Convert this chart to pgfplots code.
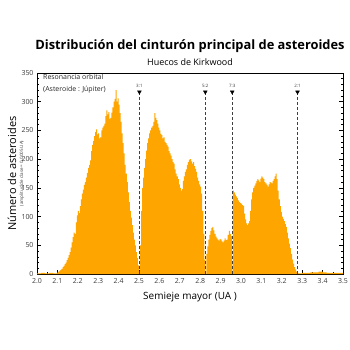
\documentclass[border=0pt]{standalone}
\usepackage{fontspec}
\setmainfont{Open Sans}
\usepackage{pgfplots}
\pgfplotsset{compat=1.18}
\definecolor{barorange}{RGB}{255,165,0}
\definecolor{ticktext}{RGB}{60,60,60}
\begin{document}
\begin{tikzpicture}
\useasboundingbox (-37bp,-76bp) rectangle (313bp,274bp);
\begin{axis}[
  at={(0,0)}, anchor=south west,
  scale only axis, width=306bp, height=201bp,
  xmin=2.0, xmax=3.5, ymin=0, ymax=350,
  xtick={2.0,2.1,...,3.5},
  xticklabels={2.0,2.1,2.2,2.3,2.4,2.5,2.6,2.7,2.8,2.9,3.0,3.1,3.2,3.3,3.4,3.5},
  ytick={0,50,...,350},
  minor x tick num=1, minor y tick num=4,
  xtick pos=bottom, ytick pos=both,
  tick align=inside,
  major tick length=4bp, minor tick length=2bp,
  tick style={black, line width=0.5pt},
  axis line style={black, line width=0.8pt},
  /pgf/number format/assume math mode=true,
  ticklabel style={font=\fontsize{7}{8}\selectfont, text=ticktext},
  xticklabel style={yshift=-1bp},
  clip=false,
]
\addplot[fill=barorange, draw=none, const plot] coordinates {
(2.00,1) (2.02,2) (2.04,1) (2.06,2) (2.08,1)
(2.100,3) (2.105,4) (2.110,6) (2.115,7) (2.120,9) (2.125,12) (2.130,14) (2.135,17)
(2.140,20) (2.145,24) (2.150,28) (2.155,33) (2.160,38) (2.165,46) (2.170,55) (2.175,64)
(2.180,72) (2.185,70) (2.190,90) (2.195,102) (2.200,110) (2.205,106) (2.210,118) (2.215,130)
(2.220,140) (2.225,147) (2.230,155) (2.235,160) (2.240,168) (2.245,176) (2.250,185) (2.255,190)
(2.260,198) (2.265,214) (2.270,225) (2.275,232) (2.280,240) (2.285,247) (2.290,252) (2.295,243)
(2.300,245) (2.305,236) (2.310,238) (2.315,250) (2.320,255) (2.325,258) (2.330,262) (2.335,275)
(2.340,285) (2.345,278) (2.350,282) (2.355,270) (2.360,272) (2.365,281) (2.370,290) (2.375,300)
(2.380,305) (2.385,320) (2.390,300) (2.395,306) (2.400,295) (2.405,280) (2.410,265) (2.415,245)
(2.420,228) (2.425,210) (2.430,190) (2.435,175) (2.440,160) (2.445,142) (2.450,125) (2.455,110)
(2.460,98) (2.465,85) (2.470,72) (2.475,60) (2.480,50) (2.485,38) (2.490,28) (2.495,15)
(2.500,4) (2.502,0) (2.505,50) (2.510,110) (2.515,150) (2.520,168) (2.525,185) (2.530,200)
(2.535,215) (2.540,228) (2.545,236) (2.550,245) (2.555,250) (2.560,255) (2.565,258) (2.570,265)
(2.575,280) (2.580,272) (2.585,268) (2.590,262) (2.595,255) (2.600,250) (2.605,244) (2.610,242)
(2.615,236) (2.620,238) (2.625,230) (2.630,228) (2.635,225) (2.640,222) (2.645,214) (2.650,210)
(2.655,206) (2.660,200) (2.665,195) (2.670,192) (2.675,182) (2.680,175) (2.685,170) (2.690,165)
(2.695,156) (2.700,150) (2.705,145) (2.710,148) (2.715,162) (2.720,170) (2.725,178) (2.730,182)
(2.735,190) (2.740,195) (2.745,199) (2.750,200) (2.755,196) (2.760,192) (2.765,195) (2.770,188)
(2.775,183) (2.780,178) (2.785,168) (2.790,162) (2.795,156) (2.800,152) (2.805,140) (2.810,110)
(2.815,70) (2.820,25) (2.825,0) (2.830,35) (2.835,48) (2.840,60) (2.845,68) (2.850,75)
(2.855,80) (2.860,82) (2.865,76) (2.870,70) (2.875,65) (2.880,62) (2.885,60) (2.890,58)
(2.895,61) (2.900,60) (2.905,57) (2.910,55) (2.915,58) (2.920,62) (2.925,59) (2.930,60)
(2.935,68) (2.940,75) (2.945,70) (2.950,66) (2.955,20) (2.957,0) (2.960,145) (2.965,142)
(2.970,138) (2.975,135) (2.980,132) (2.985,128) (2.990,125) (2.995,124) (3.000,122) (3.005,120)
(3.010,118) (3.015,105) (3.020,95) (3.025,88) (3.030,85) (3.035,88) (3.040,92) (3.045,110)
(3.050,130) (3.055,142) (3.060,150) (3.065,154) (3.070,158) (3.075,162) (3.080,165) (3.085,163)
(3.090,160) (3.095,166) (3.100,170) (3.105,168) (3.110,165) (3.115,160) (3.120,158) (3.125,155)
(3.130,152) (3.135,156) (3.140,160) (3.145,159) (3.150,158) (3.155,162) (3.160,165) (3.165,170)
(3.170,175) (3.175,165) (3.180,145) (3.185,130) (3.190,118) (3.195,108) (3.200,100) (3.205,96)
(3.210,92) (3.215,87) (3.220,82) (3.225,72) (3.230,62) (3.235,53) (3.240,45) (3.245,35)
(3.250,25) (3.255,18) (3.260,12) (3.265,8) (3.270,4) (3.275,2) (3.280,1)
(3.30,2) (3.32,2) (3.34,3) (3.36,3) (3.38,4) (3.40,3) (3.42,2) (3.44,2)
(3.46,2) (3.48,2) (3.50,0)
} \closedcycle;
% resonance lines
\addplot[densely dashed, black!75, line width=0.6pt] coordinates {(2.502,0) (2.502,315)};
\addplot[densely dashed, black!75, line width=0.6pt] coordinates {(2.825,0) (2.825,315)};
\addplot[densely dashed, black!75, line width=0.6pt] coordinates {(2.957,0) (2.957,315)};
\addplot[densely dashed, black!75, line width=0.6pt] coordinates {(3.277,0) (3.277,315)};
\addplot[only marks, mark=triangle*, mark size=2.2bp, mark options={rotate=180, fill=black, draw=black}]
  coordinates {(2.502,317) (2.825,317) (2.957,317) (3.277,317)};
\node[font=\fontsize{4.5}{5}\selectfont, text=ticktext] at (axis cs:2.502,328) {3:1};
\node[font=\fontsize{4.5}{5}\selectfont, text=ticktext] at (axis cs:2.825,328) {5:2};
\node[font=\fontsize{4.5}{5}\selectfont, text=ticktext] at (axis cs:2.957,328) {7:3};
\node[font=\fontsize{4.5}{5}\selectfont, text=ticktext] at (axis cs:3.277,328) {2:1};
% annotation
\node[anchor=north west, align=left, font=\fontsize{7}{12.5}\selectfont, text=black!85, inner sep=0pt]
  at ([xshift=6bp, yshift=-1bp]rel axis cs:0,1) {Resonancia orbital\\(Asteroide : Júpiter)};
% titles
\node[font=\bfseries\fontsize{12.9}{15}\selectfont] at ([yshift=27bp]rel axis cs:0.5,1) {Distribución del cinturón principal de asteroides};
\node[font=\fontsize{9}{11}\selectfont] at ([yshift=11bp]rel axis cs:0.5,1) {Huecos de Kirkwood};
% axis labels
\node[font=\fontsize{10}{12}\selectfont] at ([yshift=-23bp]rel axis cs:0.5,0) {Semieje mayor (UA )};
\node[font=\fontsize{11}{13}\selectfont, rotate=90] at ([xshift=-25bp]rel axis cs:0,0.5) {Número de asteroides};
\node[font=\fontsize{4.5}{5}\selectfont, rotate=90, text=ticktext] at ([xshift=-15bp]rel axis cs:0,0.5) {(amplitud de clase = 0.0005 UA)};
\end{axis}
\end{tikzpicture}
\end{document}
